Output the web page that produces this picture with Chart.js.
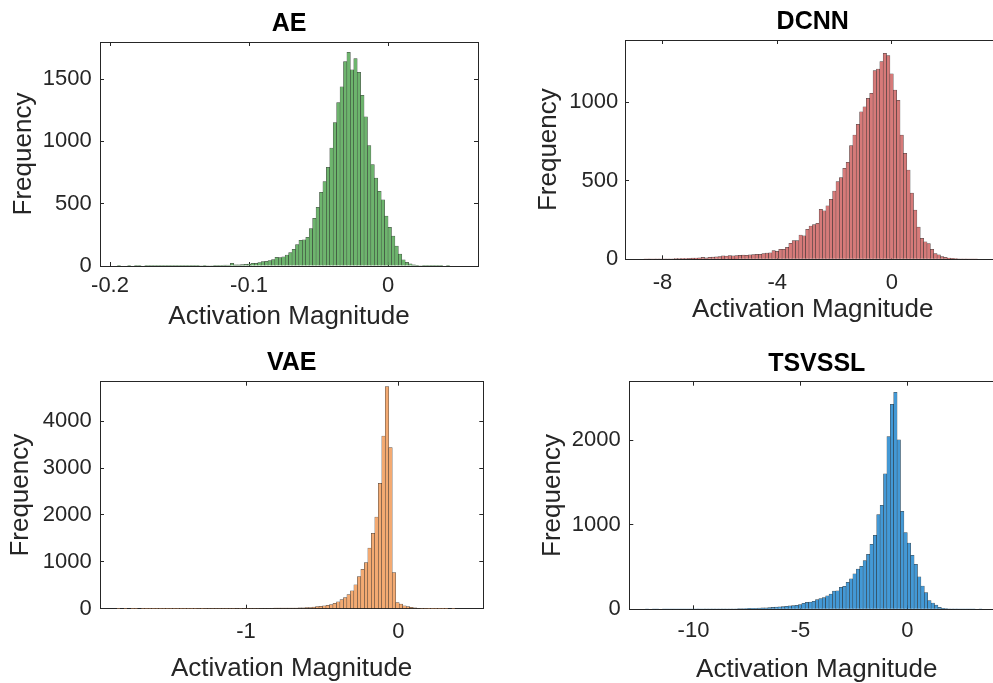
<!DOCTYPE html>
<html><head><meta charset="utf-8">
<script src="https://cdn.jsdelivr.net/npm/chart.js@4/dist/chart.umd.min.js"></script>
<style>
html,body{margin:0;padding:0;background:#fff;width:993px;height:683px;overflow:hidden;position:relative}
canvas{position:absolute;left:0;top:0;pointer-events:none}
</style></head><body>
<canvas id="cAE"></canvas><canvas id="cDCNN"></canvas><canvas id="cVAE"></canvas><canvas id="cTSVSSL"></canvas>
<script>
// ---------------- DATA ----------------
const xAxisTitle = 'Activation Magnitude';
const yAxisTitle = 'Frequency';

// AE
const aeTitle = 'AE';
const aeBinStart = -0.19481;
const aeBinWidth = 0.002466;
const aeCounts = [
  1,0,0,1,0,1,1,0,1,1,
  1,2,1,1,1,2,1,2,2,2,
  3,2,3,3,4,3,4,4,5,5,
  6,7,8,22,9,10,12,14,16,21,
  22,27,36,37,43,51,70,68,73,88,
  108,134,171,207,210,230,300,382,470,592,
  678,793,947,1152,1311,1439,1640,1715,1575,1665,
  1555,1370,1197,967,815,705,600,531,400,310,
  240,160,95,50,30,18,10,6,4,3,
  2,2,1,1,1,0,1,0,0,0
];
const aeXTicks = [-0.2, -0.1, 0];
const aeXTickLabels = ['-0.2', '-0.1', '0'];
const aeYTicks = [0, 500, 1000, 1500];
const aeXRange = [-0.2072, 0.0647];
const aeYMax = 1798;

// DCNN
const dcnnTitle = 'DCNN';
const dcnnBinStart = -8.650;
const dcnnBinWidth = 0.1176;
const dcnnCounts = [
  1,2,1,2,2,2,3,3,3,4,4,5,5,6,7,8,9,12,10,13,14,16,18,22,20,24,22,24,25,27,26,28,30,32,31,36,40,
  42,55,51,64,64,76,102,119,119,155,149,191,212,221,229,
  318,308,340,382,435,495,520,580,618,724,792,860,940,972,1025,
  1057,1202,1212,1259,1312,1298,1182,1078,1012,791,
  675,569,422,313,205,134,112,100,64,36,28,17,12,8,6,4,3,2,2,1,1,1,0
];
const dcnnXTicks = [-8, -4, 0];
const dcnnXTickLabels = ['-8', '-4', '0'];
const dcnnYTicks = [0, 500, 1000];
const dcnnXRange = [-9.31, 3.79];
const dcnnYMax = 1397;

// VAE
const vaeTitle = 'VAE';
const vaeBinStart = -1.849;
const vaeBinWidth = 0.0229;
const vaeCounts = [
  1,0,1,0,1,1,0,1,1,1,
  2,1,1,2,1,2,2,2,3,2,
  3,3,3,4,3,4,4,5,4,5,
  5,6,5,6,7,6,7,7,8,8,
  8,9,9,10,10,11,11,12,13,15,
  12,14,16,18,22,26,34,43,52,60,
  70,86,114,147,192,238,300,384,512,683,
  840,982,1292,1608,1958,2676,3687,4740,3441,770,
  128,96,62,43,28,16,9,6,4,3,
  2,2,1,1,1,0,1,0,0,0
];
const vaeXTicks = [-1, 0];
const vaeXTickLabels = ['-1', '0'];
const vaeYTicks = [0, 1000, 2000, 3000, 4000];
const vaeXRange = [-1.959, 0.558];
const vaeYMax = 4845;

// TSVSSL
const tsTitle = 'TSVSSL';
const tsBinStart = -12.251;
const tsBinWidth = 0.159;
const tsCounts = [
  1,0,1,1,0,1,1,1,2,1,
  1,2,2,2,2,3,2,3,3,3,
  3,4,4,5,5,6,6,8,8,9,
  10,12,12,14,16,18,20,22,26,28,
  32,36,40,43,47,55,71,83,85,95,
  114,128,140,158,180,215,219,260,272,320,
  361,420,475,509,576,651,770,876,1120,1231,
  1602,2043,2426,2568,2005,1158,907,785,639,531,
  383,276,199,103,75,50,22,12,8,5,
  4,3,2,2,1,1,1,0,1,0
];
const tsXTicks = [-10, -5, 0];
const tsXTickLabels = ['-10', '-5', '0'];
const tsYTicks = [0, 1000, 2000];
const tsXRange = [-13.0, 4.52];
const tsYMax = 2693;

// ---------------- LAYOUT / STYLE ----------------
const FONT = "'Liberation Sans', Arial, Helvetica, sans-serif";
const AXC = '#262626';
const CW = 1010, CH = 700;
Chart.defaults.font.family = FONT;

const panels = [
  {id:'cAE', title:aeTitle, start:aeBinStart, width:aeBinWidth, counts:aeCounts,
   xTicks:aeXTicks, xLabels:aeXTickLabels, yTicks:aeYTicks, xr:aeXRange, yMax:aeYMax,
   fill:'#6db46d', padL:0, box:{l:100,r:478,t:42,b:266},
   titleY:24.2, xTitleY:317, yTitleX:24, xLabY:286.3, yLabR:91.7},
  {id:'cDCNN', title:dcnnTitle, start:dcnnBinStart, width:dcnnBinWidth, counts:dcnnCounts,
   xTicks:dcnnXTicks, xLabels:dcnnXTickLabels, yTicks:dcnnYTicks, xr:dcnnXRange, yMax:dcnnYMax,
   fill:'#d67a79', padL:500, box:{l:625,r:1000.4,t:40,b:259.3},
   titleY:22.3, xTitleY:310, yTitleX:549, xLabY:282.7, yLabR:618.3},
  {id:'cVAE', title:vaeTitle, start:vaeBinStart, width:vaeBinWidth, counts:vaeCounts,
   xTicks:vaeXTicks, xLabels:vaeXTickLabels, yTicks:vaeYTicks, xr:vaeXRange, yMax:vaeYMax,
   fill:'#f3aa72', padL:0, box:{l:100,r:483.3,t:381.7,b:608.7},
   titleY:363.3, xTitleY:669, yTitleX:21, xLabY:631.7, yLabR:91.7},
  {id:'cTSVSSL', title:tsTitle, start:tsBinStart, width:tsBinWidth, counts:tsCounts,
   xTicks:tsXTicks, xLabels:tsXTickLabels, yTicks:tsYTicks, xr:tsXRange, yMax:tsYMax,
   fill:'#4399d6', padL:500, box:{l:629.3,r:1004.2,t:381.7,b:609.3},
   titleY:363.8, xTitleY:669.5, yTitleX:553.3, xLabY:631, yLabR:620.7}
];

const TICK_LEN = -4;
const TICK_FONT = 22, AXT_FONT = 26, TITLE_FONT = 25;

function build(p) {
  const cv = document.getElementById(p.id);
  cv.width = CW; cv.height = CH;
  cv.style.width = CW + 'px'; cv.style.height = CH + 'px';
  const yW = p.box.l - p.padL;
  const y2W = CW - p.box.r;
  const xH = CH - p.box.b;
  const x2H = p.box.t;
  const data = p.counts.map((c, i) => ({x: p.start + (i + 0.5) * p.width, y: c}));
  const grid = {drawOnChartArea:false, drawTicks:true, tickLength:TICK_LEN, tickColor:AXC, tickWidth:1, offset:false};
  const border = {display:true, color:AXC, width:1};
  const tickLine = TICK_FONT * 1.2;
  new Chart(cv, {
    type: 'bar',
    data: {datasets: [{
      data,
      backgroundColor: p.fill,
      borderColor: 'rgba(20,20,20,0.8)',
      borderWidth: 0.5,
      barPercentage: 1, categoryPercentage: 1
    }]},
    options: {
      responsive:false, animation:false, devicePixelRatio:1,
      layout:{padding:{left:p.padL, right:0, top:0, bottom:0}},
      plugins:{legend:{display:false}, tooltip:{enabled:false}, title:{display:false}},
      scales:{
        x:{type:'linear', position:'bottom', min:p.xr[0], max:p.xr[1], offset:false, grid, border,
           ticks:{autoSkip:false, maxRotation:0, color:AXC, font:{size:TICK_FONT},
                  padding: p.xLabY - p.box.b - TICK_LEN - tickLine/2,
                  callback:(v, i) => p.xLabels[i]},
           afterBuildTicks:s => { s.ticks = p.xTicks.map(v => ({value:v})); },
           afterFit:s => { s.height = xH; },
           title:{display:true, text:xAxisTitle, color:AXC, font:{size:AXT_FONT},
                  padding:{top:0, bottom: CH - AXT_FONT*0.6 - p.xTitleY}}},
        x2:{type:'linear', position:'top', min:p.xr[0], max:p.xr[1], offset:false, grid, border,
            ticks:{display:false},
            afterBuildTicks:s => { s.ticks = p.xTicks.map(v => ({value:v})); },
            afterFit:s => { s.height = x2H; },
            title:{display:true, text:p.title, color:'#000', font:{size:TITLE_FONT, weight:'bold'},
                   padding:{top: p.titleY - TITLE_FONT*0.6, bottom:0}}},
        y:{type:'linear', position:'left', min:0, max:p.yMax, grid, border,
           ticks:{color:AXC, font:{size:TICK_FONT}, padding: p.box.l - p.yLabR - TICK_LEN,
                  callback:v => String(v)},
           afterBuildTicks:s => { s.ticks = p.yTicks.map(v => ({value:v})); },
           afterFit:s => { s.width = yW; },
           title:{display:true, text:yAxisTitle, color:AXC, font:{size:AXT_FONT},
                  padding:{top: p.yTitleX - p.padL - AXT_FONT*0.6, bottom:0}}},
        y2:{type:'linear', position:'right', min:0, max:p.yMax, grid, border,
            ticks:{display:false},
            afterBuildTicks:s => { s.ticks = p.yTicks.map(v => ({value:v})); },
            afterFit:s => { s.width = y2W; }}
      }
    }
  });
}
panels.forEach(build);
</script>
</body></html>
